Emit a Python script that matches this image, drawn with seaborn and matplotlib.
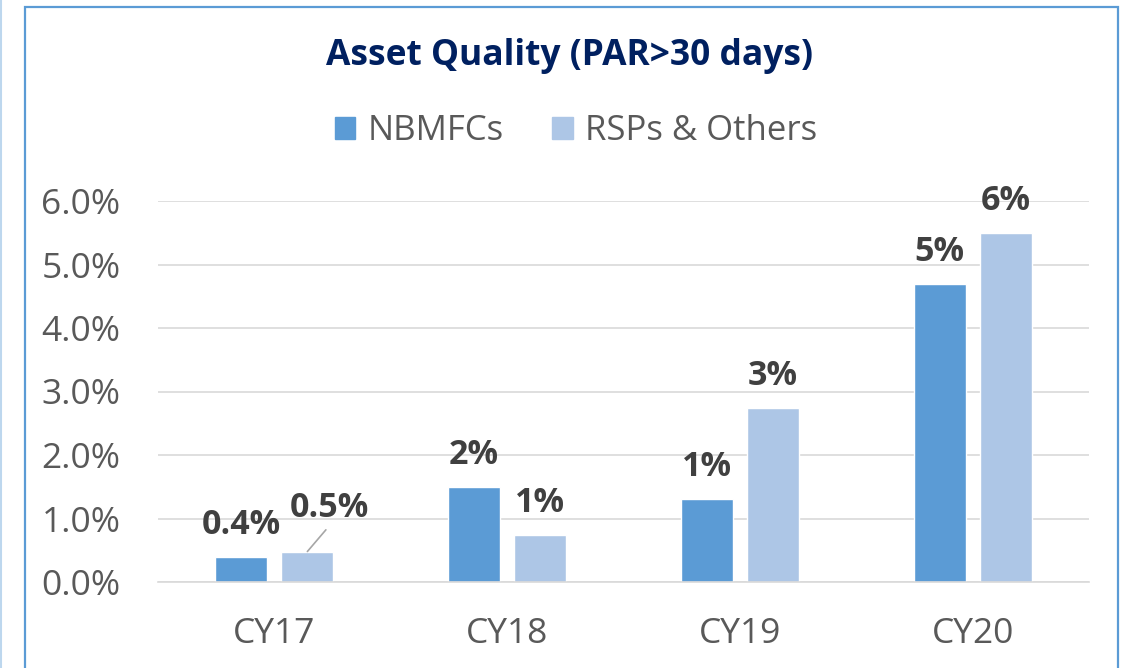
import pandas as pd
import matplotlib.pyplot as plt
import seaborn as sns
from matplotlib.patches import Rectangle
from matplotlib.lines import Line2D

# chart data
years = ['CY17', 'CY18', 'CY19', 'CY20']
nbmfc = [0.40, 1.50, 1.31, 4.69]
rsp = [0.48, 0.74, 2.74, 5.50]
nbmfc_labels = ['0.4%', '2%', '1%', '5%']
rsp_labels = ['0.5%', '1%', '3%', '6%']
series = ['NBMFCs', 'RSPs & Others']
colors = ['#5b9bd5', '#adc6e6']

df = pd.DataFrame({
    'Year': years * 2,
    'Value': nbmfc + rsp,
    'Series': [series[0]] * 4 + [series[1]] * 4,
})

sns.set_style('white')
plt.rcParams['font.family'] = ['Open Sans', 'DejaVu Sans']

W, H = 1122, 668
fig = plt.figure(figsize=(W / 100, H / 100), dpi=100)
ax = fig.add_axes([158 / W, 1 - 582 / H, (1089 - 158) / W, (582 - 201) / H])

sns.barplot(data=df, x='Year', y='Value', hue='Series', palette=colors,
            width=0.567, gap=0.212, saturation=1, ax=ax, legend=False)

ax.set_ylim(0, 6.0)
ax.set_xlim(-0.5, 3.5)
ax.set_yticks([0, 1, 2, 3, 4, 5, 6])
ax.set_yticklabels([f'{v:.1f}%' for v in range(7)])
ax.yaxis.grid(True, color='#d9d9d9', lw=1.2)
ax.set_axisbelow(True)
for side in ['top', 'right', 'left']:
    ax.spines[side].set_visible(False)
ax.spines['bottom'].set_color('#d9d9d9')
ax.spines['bottom'].set_linewidth(1.2)
ax.tick_params(axis='both', length=0, labelsize=25.5, labelcolor='#595959')
ax.tick_params(axis='x', pad=25)
ax.tick_params(axis='y', pad=27)
ax.set_xlabel('')
ax.set_ylabel('')

# data labels
label_sets = [nbmfc_labels, rsp_labels]
for container, labels in zip(ax.containers, label_sets):
    for bar, lab in zip(container.patches, labels):
        x = bar.get_x() + bar.get_width() / 2
        y = bar.get_height()
        if lab == '0.5%':
            ax.annotate(lab, xy=(x, y), xytext=(16, 24.5), textcoords='offset points',
                        ha='center', va='baseline', fontsize=24.5, fontweight='bold',
                        color='#404040',
                        arrowprops=dict(arrowstyle='-', color='#a6a6a6', lw=1.2,
                                        relpos=(0.5, 0), shrinkA=1, shrinkB=0))
        else:
            ax.annotate(lab, xy=(x, y), xytext=(0, 16.5), textcoords='offset points',
                        ha='center', va='baseline', fontsize=24.5, fontweight='bold',
                        color='#404040')

# title and legend
fig.text(569 / W, 1 - 65 / H, 'Asset Quality (PAR>30 days)', ha='center', va='baseline',
         fontsize=25.5, fontweight='bold', color='#002060')
handles = [Rectangle((0, 0), 1, 1, color=c) for c in colors]
fig.legend(handles, series, loc='center', bbox_to_anchor=(576 / W, 1 - 131 / H),
           ncol=2, frameon=False, fontsize=25, labelcolor='#595959',
           handlelength=0.6, handleheight=0.6, handletextpad=0.35, columnspacing=1.4,
           borderpad=0, borderaxespad=0)

# chart border
fig.add_artist(Rectangle((25 / W, -0.02), (1118 - 25) / W, 1.02 - 7 / H,
                         transform=fig.transFigure, fill=False,
                         edgecolor='#5b9bd5', lw=1.6))
fig.add_artist(Line2D([1 / W, 1 / W], [0, 1], transform=fig.transFigure,
                      color='#bdd7ee', lw=1.5))

plt.savefig('out.png', dpi=100)
